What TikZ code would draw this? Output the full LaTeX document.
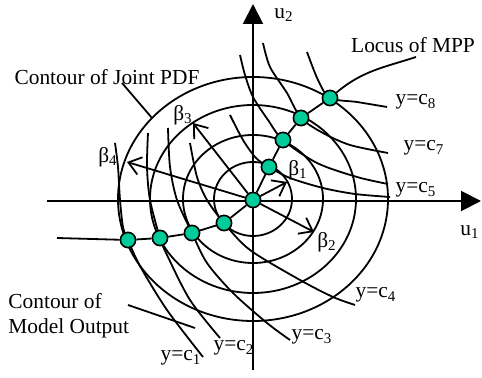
\documentclass[tikz,border=0pt]{standalone}
\usepackage{fontspec}
\setmainfont{Liberation Serif}
\usepackage{xcolor}
\usetikzlibrary{arrows.meta,backgrounds}
\definecolor{mppgreen}{RGB}{0,204,153}

\begin{document}
\begin{tikzpicture}[x=0.5pt,y=-0.5pt,
    mpp/.style={circle, draw, line width=0.8pt, fill=mppgreen,
                inner sep=0pt, minimum size=7.6pt},
    contour/.style={line width=0.9pt},
    axis/.style={line width=1pt, -{Triangle[length=10pt,width=10pt]}},
    beta/.style={line width=0.9pt, -{Straight Barb[length=6pt,width=9pt]}},
    lbl/.style={font=\fontsize{10.7}{12.5}\selectfont, inner sep=0pt}
]
\useasboundingbox (0,0) rectangle (482,378);
% most probable points
\node[mpp] (m1) at (128,240) {};
\node[mpp] (m2) at (160,238) {};
\node[mpp] (m3) at (192,233) {};
\node[mpp] (m4) at (224,223) {};
\node[mpp] (m5) at (253,200) {};
\node[mpp] (m6) at (269,167) {};
\node[mpp] (m7) at (283,140) {};
\node[mpp] (m8) at (301,118) {};
\node[mpp] (m9) at (330,98) {};
% labels
\node[lbl] (u2lbl) at (284,15) {u\textsubscript{2}};
\node[lbl, anchor=east] (u1lbl) at (480,232) {u\textsubscript{1}};
\node[lbl] (locus) at (413,45) {Locus of MPP};
\node[lbl] (jpdf) at (107,77) {Contour of Joint PDF};
\node[lbl, align=left, anchor=north west] (mout) at (8,293)
     {Contour of\\Model Output};
\node[lbl] (b1lbl) at (298,170) {β\textsubscript{1}};
\node[lbl] (b2lbl) at (327,242) {β\textsubscript{2}};
\node[lbl] (b3lbl) at (183,115) {β\textsubscript{3}};
\node[lbl] (b4lbl) at (108,157) {β\textsubscript{4}};
\node[lbl] (c1lbl) at (181,358) {y=c\textsubscript{1}};
\node[lbl] (c2lbl) at (234,348) {y=c\textsubscript{2}};
\node[lbl] (c3lbl) at (312,337) {y=c\textsubscript{3}};
\node[lbl] (c4lbl) at (376,295) {y=c\textsubscript{4}};
\node[lbl] (c5lbl) at (416,190) {y=c\textsubscript{5}};
\node[lbl] (c7lbl) at (424,148) {y=c\textsubscript{7}};
\node[lbl] (c8lbl) at (416,102) {y=c\textsubscript{8}};
% free ends
\coordinate (u1s) at (47,201);  \coordinate (u1e) at (481,201);
\coordinate (u2s) at (253,370); \coordinate (u2e) at (253,4);
\coordinate (b1) at (287,182);  \coordinate (b2) at (314,232);
\coordinate (b3) at (193,123);  \coordinate (b4) at (127,162);
\coordinate (lleft) at (57,238); \coordinate (lright) at (416,57);
\coordinate (jp1) at (122,83);  \coordinate (jp2) at (152,118);
\coordinate (mo1) at (128,305); \coordinate (mo2) at (195,328);

\begin{scope}[on background layer]
% joint pdf contours
\foreach \rx/\ry in {39/37, 70/64, 103/94, 135/122}
  \draw[contour] (253,199) ellipse [x radius=\rx, y radius=\ry];
% model output contours
\draw[contour] plot[smooth] coordinates {(115,143) (118,167) (120,200)
  (123,227) (128,240) (140,266) (167,310) (203,357)};
\draw[contour] plot[smooth] coordinates {(148,133) (147,167) (150,200)
  (160,238) (167,255) (190,300) (220,338)};
\draw[contour] plot[smooth] coordinates {(168,128) (170,167) (177,200)
  (192,233) (207,263) (233,293) (267,323) (290,340)};
\draw[contour] plot[smooth] coordinates {(190,143) (197,177) (207,200)
  (224,223) (250,250) (300,280) (333,297) (355,305)};
\draw[contour] plot[smooth] coordinates {(230,115) (243,140) (256,158)
  (269,167) (290,178) (323,188) (355,194) (390,197)};
\draw[contour] plot[smooth] coordinates {(240,55) (245,75) (253,97)
  (268,120) (283,140) (317,163) (357,177) (388,184)};
\draw[contour] plot[smooth] coordinates {(263,43) (270,67) (287,93)
  (301,118) (323,133) (350,145) (388,153)};
\draw[contour] plot[smooth] coordinates {(307,52) (318,80) (330,98)
  (357,102) (387,107)};
% axes
\draw[axis] (u1s) -- (u1e);
\draw[axis] (u2s) -- (u2e);
% reliability indices
\draw[beta] (m5) -- (b1);
\draw[beta] (m5) -- (b2);
\draw[beta] (m5) -- (b3);
\draw[beta] (m5) -- (b4);
% locus of MPP
\draw[contour] (lleft) -- (m1) -- (m2) -- (m3) -- (m4) -- (m5)
  -- (m6) -- (m7) -- (m8) -- (m9) to[out=40,in=198] (lright);
% pointers
\draw[contour] (jp1) -- (jp2);
\draw[contour] (mo1) -- (mo2);
\end{scope}
\end{tikzpicture}
\end{document}
